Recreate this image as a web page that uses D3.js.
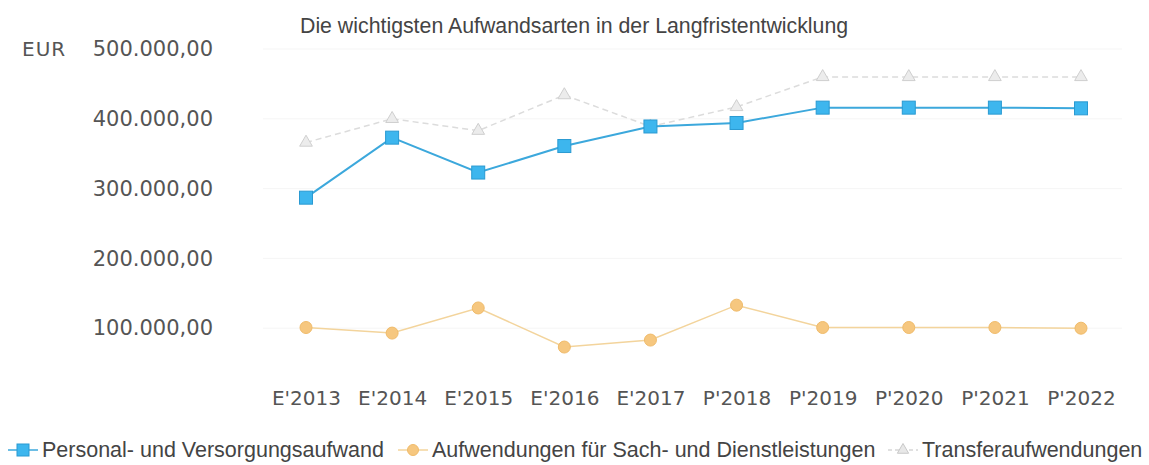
<!DOCTYPE html>
<html>
<head>
<meta charset="utf-8">
<script src="https://cdn.jsdelivr.net/npm/d3@7"></script>
<style>
  body { margin: 0; background: #fff; }
  svg { display: block; }
</style>
</head>
<body>
<div id="chart-area"></div>
<script>
let categories = ["E'2013", "E'2014", "E'2015", "E'2016", "E'2017", "P'2018", "P'2019", "P'2020", "P'2021", "P'2022"];
let personal = [287000, 373000, 323000, 361000, 389000, 394000, 416000, 416000, 416000, 415000];
let sach = [101000, 93000, 129000, 73000, 83000, 133000, 101000, 101000, 101000, 100000];
let transfer = [366000, 400000, 383000, 434000, 389000, 417000, 460000, 460000, 460000, 460000];
let yTicks = [100000, 200000, 300000, 400000, 500000];
let seriesNames = ["Personal- und Versorgungsaufwand", "Aufwendungen für Sach- und Dienstleistungen", "Transferaufwendungen"];

let W = 1149, H = 465;
let margin = { left: 263, right: 27, top: 49, bottom: 67 };
let width = W - margin.left - margin.right;
let height = H - margin.top - margin.bottom;

let svg = d3.select("#chart-area")
  .append("svg")
  .attr("width", W)
  .attr("height", H);

let g = svg.append("g")
  .attr("transform", "translate(" + margin.left + "," + margin.top + ")");

// title
svg.append("text")
  .attr("x", 300)
  .attr("y", 33)
  .attr("font-family", "Liberation Sans, Arial, sans-serif")
  .attr("font-size", "21.3px")
  .attr("fill", "#444")
  .text("Die wichtigsten Aufwandsarten in der Langfristentwicklung");

// unit
svg.append("text")
  .attr("x", 22)
  .attr("y", 56)
  .attr("font-family", "DejaVu Sans, Verdana, sans-serif")
  .attr("font-size", "20px")
  .attr("letter-spacing", "1px")
  .attr("fill", "#555")
  .text("EUR");

let x = d3.scalePoint()
  .domain(categories)
  .range([43, width - 41]);

let y = d3.scaleLinear()
  .domain([0, 500000])
  .range([349, 0]);

let fmt = d3.formatLocale({ decimal: ",", thousands: ".", grouping: [3], currency: ["", ""] }).format(",.2f");

// grid
g.append("g")
  .selectAll("line")
  .data(yTicks)
  .enter()
  .append("line")
  .attr("x1", 0)
  .attr("x2", width)
  .attr("y1", d => y(d))
  .attr("y2", d => y(d))
  .attr("stroke", "#f5f5f5");

let yAxis = g.append("g")
  .attr("transform", "translate(-47,0)")
  .call(d3.axisLeft(y).tickValues(yTicks).tickFormat(fmt).tickSize(0));
yAxis.select(".domain").remove();
yAxis.selectAll("text")
  .attr("font-family", "DejaVu Sans, Verdana, sans-serif")
  .attr("font-size", "21px")
  .attr("fill", "#555");

let xAxis = g.append("g")
  .attr("transform", "translate(0," + 349 + ")")
  .call(d3.axisBottom(x).tickSize(0));
xAxis.select(".domain").remove();
xAxis.selectAll("text")
  .attr("y", -7)
  .attr("font-family", "DejaVu Sans, Verdana, sans-serif")
  .attr("font-size", "20px")
  .attr("fill", "#555");

let line = d3.line()
  .x((d, i) => x(categories[i]))
  .y(d => y(d));

// transfer (grey dashed, triangles)
g.append("path")
  .datum(transfer)
  .attr("fill", "none")
  .attr("stroke", "#dcdcdc")
  .attr("stroke-width", 1.5)
  .attr("stroke-dasharray", "6,4")
  .attr("d", line);

let tri = d3.symbol().type(d3.symbolTriangle).size(70);
g.selectAll(".tri")
  .data(transfer)
  .enter()
  .append("path")
  .attr("class", "tri")
  .attr("transform", (d, i) => "translate(" + x(categories[i]) + "," + y(d) + ")")
  .attr("d", tri)
  .attr("fill", "#ececec")
  .attr("stroke", "#cfcfcf");

// sach (orange, circles)
g.append("path")
  .datum(sach)
  .attr("fill", "none")
  .attr("stroke", "#f3d49c")
  .attr("stroke-width", 1.5)
  .attr("d", line);

g.selectAll(".dot")
  .data(sach)
  .enter()
  .append("circle")
  .attr("class", "dot")
  .attr("cx", (d, i) => x(categories[i]))
  .attr("cy", d => y(d))
  .attr("r", 6)
  .attr("fill", "#f6c77f")
  .attr("stroke", "#f0bb6a");

// personal (blue, squares)
g.append("path")
  .datum(personal)
  .attr("fill", "none")
  .attr("stroke", "#3ca8dc")
  .attr("stroke-width", 2)
  .attr("d", line);

g.selectAll(".sq")
  .data(personal)
  .enter()
  .append("rect")
  .attr("class", "sq")
  .attr("x", (d, i) => x(categories[i]) - 6.5)
  .attr("y", d => y(d) - 6.5)
  .attr("width", 13)
  .attr("height", 13)
  .attr("fill", "#3db6ee")
  .attr("stroke", "#2a9ad2");

// legend
let legend = svg.append("g").attr("transform", "translate(0,450)");
let legendX = [8, 398, 888];
seriesNames.forEach((name, i) => {
  let lg = legend.append("g").attr("transform", "translate(" + legendX[i] + ",0)");
  let col = ["#3ca8dc", "#f3d49c", "#d6d6d6"][i];
  lg.append("line")
    .attr("x1", 0).attr("x2", 30)
    .attr("stroke", col).attr("stroke-width", 1.5)
    .attr("stroke-dasharray", i == 2 ? "4,3" : null);
  if (i == 0) {
    lg.append("rect").attr("x", 9).attr("y", -6).attr("width", 12).attr("height", 12)
      .attr("fill", "#3db6ee").attr("stroke", "#2a9ad2");
  } else if (i == 1) {
    lg.append("circle").attr("cx", 15).attr("r", 5.5).attr("fill", "#f6c77f").attr("stroke", "#f0bb6a");
  } else {
    lg.append("path").attr("transform", "translate(15,0)")
      .attr("d", d3.symbol().type(d3.symbolTriangle).size(55))
      .attr("fill", "#e8e8e8").attr("stroke", "#c8c8c8");
  }
  lg.append("text")
    .attr("x", 34)
    .attr("y", 7)
    .attr("font-family", "Liberation Sans, Arial, sans-serif")
    .attr("font-size", "21.5px")
    .attr("fill", "#444")
    .text(name);
});
</script>
</body>
</html>
